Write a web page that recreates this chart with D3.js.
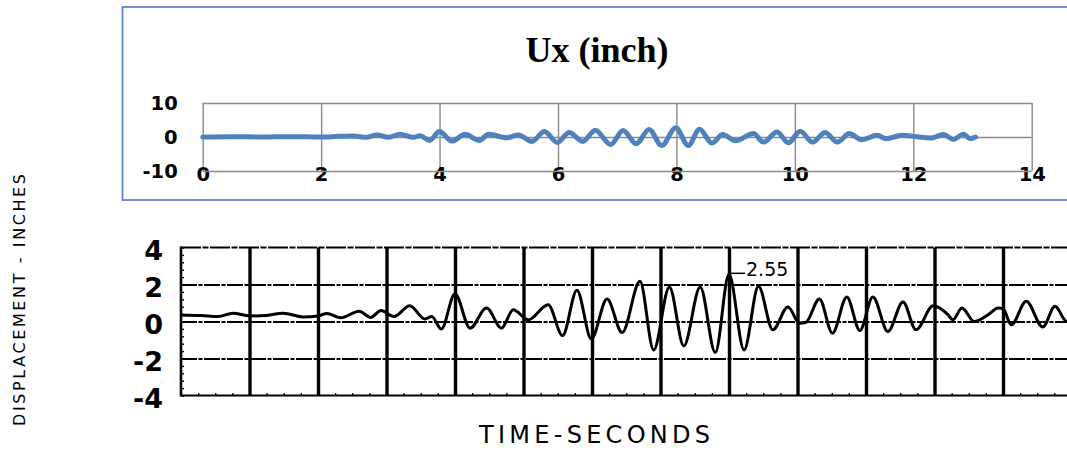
<!DOCTYPE html>
<html>
<head>
<meta charset="utf-8">
<script src="https://cdn.jsdelivr.net/npm/d3@7"></script>
<style>
  body { margin: 0; background: #fff; }
  svg { display: block; }
</style>
</head>
<body>
<div id="chart"></div>
<script>
// top chart (Ux, inch) - peaks and troughs
var uxTime = [0, 0.5, 1.0, 1.5, 2.0, 2.3, 2.54, 2.77, 2.94, 3.14, 3.33, 3.56, 3.67, 3.83, 4.0, 4.21,
  4.43, 4.67, 4.83, 5.13, 5.33, 5.56, 5.77, 5.99, 6.19, 6.42, 6.63, 6.89, 7.1, 7.32, 7.54, 7.75,
  7.99, 8.2, 8.39, 8.6, 8.78, 9.0, 9.3, 9.47, 9.7, 9.89, 10.09, 10.3, 10.51, 10.72, 10.92, 11.13,
  11.39, 11.54, 11.81, 12.06, 12.29, 12.51, 12.68, 12.85, 12.96, 13.05];
var uxValue = [0, 0.1, 0, 0.1, 0, 0.2, 0.3, -0.1, 0.6, -0.1, 0.8, -0.1, 0.4, -1.0, 1.6, -1.2,
  0.8, -1.0, 0.8, -0.2, 0.6, -1.3, 1.6, -1.6, 1.3, -1.3, 2.0, -2.2, 1.9, -2.0, 2.2, -2.5,
  2.7, -2.5, 2.3, -1.8, 0.7, -1.1, 1.0, -1.5, 1.5, -1.7, 1.7, -1.5, 1.3, -1.5, 1.0, -0.8,
  0.5, -0.5, 0.5, 0.1, -0.3, 0.7, -0.7, 0.8, -0.5, 0];
var uxXTicks = [0, 2, 4, 6, 8, 10, 12, 14];
var uxYTicks = [-10, 0, 10];

// bottom chart (recorded displacement, inches)
var recTime = [0, 0.3, 0.54, 0.76, 1.0, 1.25, 1.49, 1.78, 2.0, 2.13, 2.33, 2.6, 2.77, 2.92, 3.11,
  3.34, 3.56, 3.66, 3.8, 4.0, 4.22, 4.46, 4.68, 4.85, 5.07, 5.36, 5.57, 5.78, 5.99, 6.22, 6.44,
  6.7, 6.9, 7.13, 7.34, 7.58, 7.8, 8.0, 8.22, 8.43, 8.64, 8.86, 9.03, 9.12, 9.32, 9.51, 9.72, 9.91,
  10.1, 10.32, 10.54, 10.73, 10.98, 11.2, 11.27, 11.4, 11.58, 11.78, 11.93, 12.0, 12.12, 12.34,
  12.58, 12.76, 12.93, 13.1];
var recValue = [0.35, 0.32, 0.27, 0.45, 0.3, 0.33, 0.45, 0.25, 0.3, 0.43, 0.2, 0.56, 0.22, 0.6, 0.27,
  0.85, 0.13, 0.27, -0.41, 1.5, -0.36, 0.73, -0.36, 0.64, 0.09, 0.91, -0.76, 1.69, -0.94, 1.22, -0.6,
  2.17, -1.54, 1.87, -1.32, 1.87, -1.68, 2.55, -1.54, 1.9, -0.45, 0.78, -0.09, -0.05, 1.22, -0.63, 1.33, -0.49,
  1.33, -0.54, 1.05, -0.45, 0.85, 0.36, 0.09, 0.73, 0.0, 0.36, 0.73, 0.7, -0.18, 1.09,
  -0.3, 0.82, 0.0, 0.5];
var recXGrid = [1, 2, 3, 4, 5, 6, 7, 8, 9, 10, 11, 12];
var recYGrid = [-2, 0, 2];
var recYTicks = [4, 2, 0, -2, -4];

var W = 1067, H = 450;

var svg = d3.select("#chart")
  .append("svg")
  .attr("width", W)
  .attr("height", H);

svg.append("rect").attr("width", W).attr("height", H).attr("fill", "#fff");

// ---------- top chart ----------
var x1 = d3.scaleLinear().domain([0, 14]).range([202.7, 1031.7]);
var y1 = d3.scaleLinear().domain([-10, 10]).range([171, 103]);

// chart frame
svg.append("rect")
  .attr("x", 122.5)
  .attr("y", 7)
  .attr("width", W)
  .attr("height", 193)
  .attr("fill", "none")
  .attr("stroke", "#5a88c6")
  .attr("stroke-width", 1.8);

svg.append("text")
  .attr("x", 597)
  .attr("y", 62)
  .attr("text-anchor", "middle")
  .style("font-family", "'Liberation Serif', 'Times New Roman', serif")
  .style("font-weight", "bold")
  .style("font-size", "36px")
  .text("Ux (inch)");

var gx1 = svg.append("g")
  .attr("transform", "translate(0," + y1(-10) + ")")
  .call(d3.axisBottom(x1).tickValues(uxXTicks).tickSize(-(y1(-10) - y1(10))).tickPadding(-4).tickFormat(String));
gx1.select(".domain").remove();
gx1.selectAll("line").attr("stroke", "#8a8a8a").attr("stroke-width", 1.4);
gx1.selectAll("text")
  .attr("fill", "#000")
  .style("font-family", "'DejaVu Sans', sans-serif")
  .style("font-weight", "bold")
  .style("font-size", "19.5px");

var gy1 = svg.append("g")
  .attr("transform", "translate(" + x1(0) + ",0)")
  .call(d3.axisLeft(y1).tickValues(uxYTicks).tickSize(-(x1(14) - x1(0))).tickPadding(25).tickFormat(String));
gy1.select(".domain").remove();
gy1.selectAll("line").attr("stroke", "#8a8a8a").attr("stroke-width", 1.4);
gy1.selectAll("text")
  .attr("fill", "#000")
  .style("font-family", "'DejaVu Sans', sans-serif")
  .style("font-weight", "bold")
  .style("font-size", "19.5px");

var uxLine = d3.line()
  .x(function (d, i) { return x1(uxTime[i]); })
  .y(function (d) { return y1(d); })
  .curve(d3.curveMonotoneX);

svg.append("path")
  .datum(uxValue)
  .attr("d", uxLine)
  .attr("fill", "none")
  .attr("stroke", "#4f81bd")
  .attr("stroke-width", 5)
  .attr("stroke-linejoin", "round")
  .attr("stroke-linecap", "round");

// ---------- bottom chart ----------
var x2 = d3.scaleLinear().domain([0, 12]).range([181, 1003]);
var y2 = d3.scaleLinear().domain([-4, 4]).range([395.5, 247.5]);

// horizontal grid lines
var gy2 = svg.append("g")
  .attr("transform", "translate(" + x2(0) + ",0)")
  .call(d3.axisRight(y2).tickValues(recYGrid).tickSize(W - x2(0)).tickFormat(""));
gy2.select(".domain").remove();
gy2.selectAll("line")
  .attr("stroke", "#000")
  .attr("stroke-width", 1.8)
  .attr("stroke-dasharray", "16 1.5 4 1.5");

// heavy vertical grid lines (one per second)
var gx2 = svg.append("g")
  .attr("transform", "translate(0," + y2(-4) + ")")
  .call(d3.axisBottom(x2).tickValues(recXGrid).tickSize(-(y2(-4) - y2(4))).tickFormat(""));
gx2.select(".domain").remove();
gx2.selectAll("line").attr("stroke", "#000").attr("stroke-width", 3.4);

// minor ticks along the frame
var minor = d3.range(0, 12.95, 0.25);
var gBot = svg.append("g")
  .attr("transform", "translate(0," + y2(-4) + ")")
  .call(d3.axisTop(x2).tickValues(minor).tickSize(2.5).tickFormat(""));
gBot.select(".domain").remove();
gBot.selectAll("line").attr("stroke", "#000").attr("stroke-width", 1.3);
var gLeft = svg.append("g")
  .attr("transform", "translate(" + x2(0) + ",0)")
  .call(d3.axisRight(y2).tickValues(d3.range(-4, 4.01, 0.4)).tickSize(3).tickFormat(""));
gLeft.select(".domain").remove();
gLeft.selectAll("line").attr("stroke", "#000").attr("stroke-width", 1.4);

// frame: top, bottom, left
svg.append("line")
  .attr("x1", x2(0)).attr("x2", W)
  .attr("y1", y2(4)).attr("y2", y2(4))
  .attr("stroke", "#000").attr("stroke-width", 2).attr("stroke-dasharray", "20 1.5 6 1.5");
svg.append("line")
  .attr("x1", x2(0)).attr("x2", W)
  .attr("y1", y2(-4)).attr("y2", y2(-4))
  .attr("stroke", "#000").attr("stroke-width", 2);
svg.append("line")
  .attr("x1", x2(0)).attr("x2", x2(0))
  .attr("y1", y2(4) - 1).attr("y2", y2(-4) + 1)
  .attr("stroke", "#000").attr("stroke-width", 2.6);

// displacement trace
var recLine = d3.line()
  .x(function (d, i) { return x2(recTime[i]); })
  .y(function (d) { return y2(d); })
  .curve(d3.curveMonotoneX);

svg.append("path")
  .datum(recValue)
  .attr("d", recLine)
  .attr("fill", "none")
  .attr("stroke", "#000")
  .attr("stroke-width", 3)
  .attr("stroke-linejoin", "round");

// y tick labels
svg.append("g")
  .selectAll("text")
  .data(recYTicks)
  .enter()
  .append("text")
  .attr("x", 163)
  .attr("y", function (d) { return y2(d) + 3; })
  .attr("dy", "0.36em")
  .attr("text-anchor", "end")
  .style("font-family", "'DejaVu Sans', sans-serif")
  .style("font-weight", "bold")
  .style("font-size", "27px")
  .text(function (d) { return String(d); });

// peak annotation
var peakI = recValue.indexOf(d3.max(recValue));
svg.append("line")
  .attr("x1", x2(recTime[peakI])).attr("x2", x2(recTime[peakI]) + 16)
  .attr("y1", y2(recValue[peakI]) - 1).attr("y2", y2(recValue[peakI]) - 1)
  .attr("stroke", "#000").attr("stroke-width", 1.5);
svg.append("text")
  .attr("x", x2(recTime[peakI]) + 17)
  .attr("y", y2(recValue[peakI]) + 2)
  .style("font-family", "'DejaVu Sans', sans-serif")
  .style("font-size", "19px")
  .text(d3.format(".2f")(recValue[peakI]));

// axis titles
svg.append("text")
  .attr("transform", "translate(25,300) rotate(-90)")
  .attr("text-anchor", "middle")
  .attr("textLength", 252)
  .attr("lengthAdjust", "spacing")
  .style("font-family", "'DejaVu Sans', sans-serif")
  .style("font-size", "16px")
  .text("DISPLACEMENT - INCHES");

svg.append("text")
  .attr("x", 479)
  .attr("y", 443)
  .attr("textLength", 231)
  .attr("lengthAdjust", "spacing")
  .style("font-family", "'DejaVu Sans', sans-serif")
  .style("font-size", "24px")
  .text("TIME-SECONDS");
</script>
</body>
</html>
